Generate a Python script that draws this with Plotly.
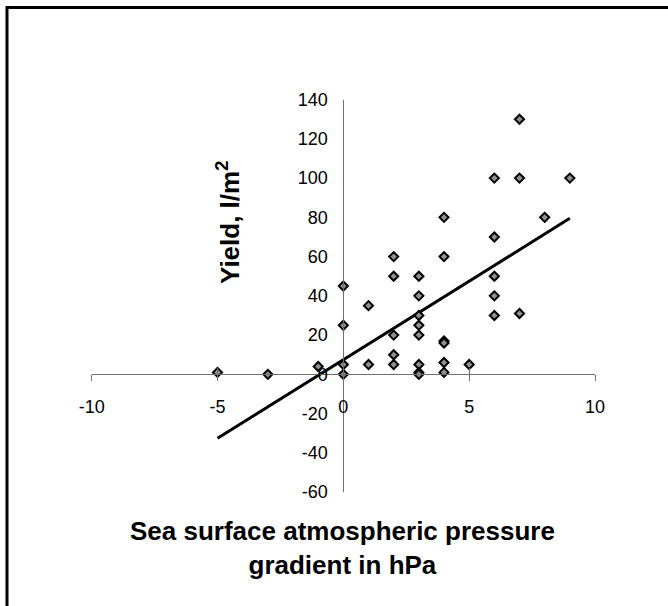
import plotly.graph_objects as go

# ---- data ----
pressure_gradient = [-5, -3, -1,
                     0, 0, 0, 0,
                     1, 1,
                     2, 2, 2, 2, 2,
                     3, 3, 3, 3, 3, 3, 3, 3,
                     4, 4, 4, 4, 4, 4,
                     5,
                     6, 6, 6, 6, 6,
                     7, 7, 7,
                     8, 9]
yield_lm2 = [1, 0, 4,
             45, 25, 5, 0,
             35, 5,
             60, 50, 20, 10, 5,
             50, 40, 30, 25, 20, 5, 1, 0,
             80, 60, 17, 16, 6, 1,
             5,
             100, 70, 50, 40, 30,
             130, 100, 31,
             80, 100]
trend_x = [-5, 9]
trend_y = [-32.6, 79.5]

x_ticks = [-10, -5, 0, 5, 10]
y_ticks = [-60, -40, -20, 0, 20, 40, 60, 80, 100, 120, 140]

W, H = 668, 606
FONT = "Arial, Liberation Sans, sans-serif"
AXIS_GRAY = "#6e6e6e"

fig = go.Figure()
fig.add_trace(go.Scatter(
    x=trend_x, y=trend_y, mode="lines",
    line=dict(color="black", width=3), showlegend=False, hoverinfo="skip"))
fig.add_trace(go.Scatter(
    x=pressure_gradient, y=yield_lm2, mode="markers",
    marker=dict(symbol="diamond", size=7, color="#909090",
                line=dict(color="black", width=2)),
    cliponaxis=False, showlegend=False))
# dummy trace so the overlay axis (inside half of the cross ticks) is drawn
fig.add_trace(go.Scatter(x=[None], y=[None], xaxis="x2", yaxis="y",
                         showlegend=False, hoverinfo="skip"))

# pixel geometry
x_left_px, x_right_px = 91.7, 595.0
y_top_px, y_bot_px = 99.6, 492.1
yaxis_x_px = 343.3
xaxis_y_px = 374.3

x_dom = [x_left_px / W, x_right_px / W]
y_dom = [(H - y_bot_px) / H, (H - y_top_px) / H]
x_pos = (H - xaxis_y_px) / H
y_pos = yaxis_x_px / W

common_x = dict(range=[-10, 10], domain=x_dom, anchor="free", position=x_pos,
                showgrid=False, zeroline=False, showline=True,
                linecolor=AXIS_GRAY, linewidth=1,
                tickvals=x_ticks, tickcolor=AXIS_GRAY, ticklen=6, tickwidth=1)

fig.update_layout(
    width=W, height=H,
    margin=dict(l=0, r=0, t=0, b=0, autoexpand=False),
    paper_bgcolor="white", plot_bgcolor="rgba(0,0,0,0)",
    font=dict(family=FONT, size=18, color="black"),
    xaxis=dict(**common_x, ticks="outside",
               ticktext=[str(v) for v in x_ticks],
               tickfont=dict(size=18, family=FONT, color="black"),
               ticklabelstandoff=10),
    xaxis2=dict(**common_x, ticks="inside", overlaying="x",
                showticklabels=False),
    yaxis=dict(range=[-60, 140], domain=y_dom, anchor="free", position=y_pos,
               showgrid=False, zeroline=False, showline=True,
               linecolor=AXIS_GRAY, linewidth=1, ticks="",
               tickvals=y_ticks, ticktext=[str(v) for v in y_ticks],
               tickfont=dict(size=18, family=FONT, color="black"),
               ticklabelstandoff=12),
    shapes=[dict(type="rect", xref="paper", yref="paper",
                 x0=7 / W, x1=1.1, y0=-0.1, y1=(H - 7.5) / H,
                 line=dict(color="black", width=3), layer="above")],
    annotations=[
        dict(text="<b>Sea surface atmospheric pressure</b><br><b>gradient in hPa</b>",
             xref="paper", yref="paper", x=342.5 / W, y=(H - 548) / H,
             xanchor="center", yanchor="middle", showarrow=False,
             font=dict(family=FONT, size=26, color="black")),
        dict(text="<b>Yield, l/m<sup>2</sup></b>",
             xref="paper", yref="paper", x=229 / W, y=(H - 223) / H,
             xanchor="center", yanchor="middle", showarrow=False,
             textangle=-90,
             font=dict(family=FONT, size=26, color="black")),
    ],
)

fig.write_html("out.html",
               config={"displayModeBar": False},
               post_script="document.body.style.margin='0';"
                           "document.body.style.overflow='hidden';")
